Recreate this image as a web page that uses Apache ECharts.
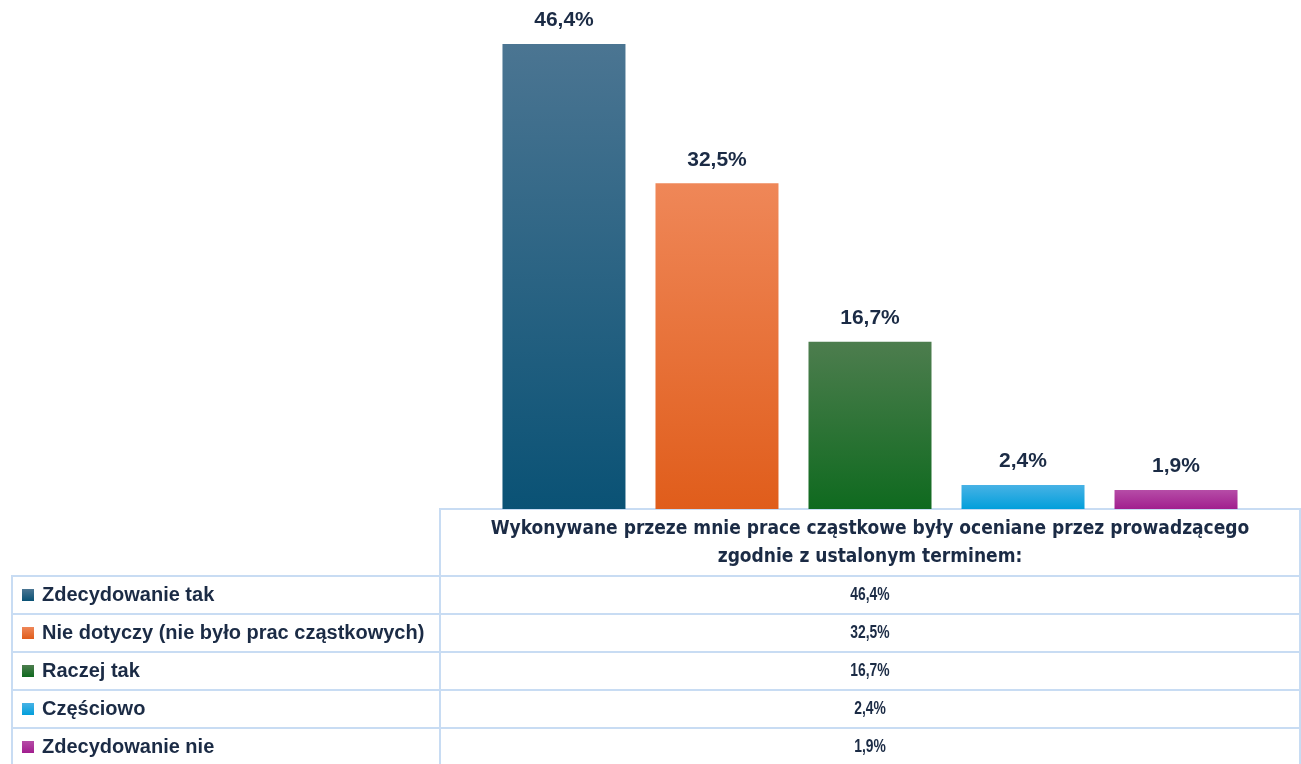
<!DOCTYPE html>
<html>
<head>
<meta charset="utf-8">
<script src="https://cdn.jsdelivr.net/npm/echarts@6/dist/echarts.min.js"></script>
<style>
  html, body { margin: 0; padding: 0; background: #fff; }
  #chart { width: 1301px; height: 764px; }
</style>
</head>
<body>
<div id="chart"></div>
<script>
// dane z wykresu
const question = 'Wykonywane przeze mnie prace cząstkowe były oceniane przez prowadzącego\nzgodnie z ustalonym terminem:';
const answers = ['Zdecydowanie tak', 'Nie dotyczy (nie było prac cząstkowych)', 'Raczej tak', 'Częściowo', 'Zdecydowanie nie'];
const percents = [46.4, 32.5, 16.7, 2.4, 1.9];
const colorsTop = ['#4b7592', '#ef8758', '#4d7d4e', '#48b2e5', '#b64da7'];
const colorsBottom = ['#0a5275', '#e05d1b', '#0f6a1f', '#029fdb', '#a11e8e'];

const textColor = '#1b2b45';
const lineColor = '#c8dcf3';
const fmt = v => v.toFixed(1).replace('.', ',') + '%';

// tabela danych pod wykresem
const tableLeft = 12, colX = 440, tableRight = 1300;
const headTop = 509, rowTop = 576, rowH = 38;
const graphic = [];
graphic.push({
  type: 'rect', shape: { x: colX, y: headTop, width: tableRight - colX, height: rowTop - headTop },
  style: { fill: 'none', stroke: lineColor, lineWidth: 2 }
});
graphic.push({
  type: 'text', x: (colX + tableRight) / 2, y: (headTop + rowTop) / 2 + 1,
  style: {
    text: question, align: 'center', verticalAlign: 'middle', lineHeight: 28,
    font: 'bold 19px "DejaVu Sans Condensed", sans-serif', fill: textColor
  }
});
answers.forEach((name, i) => {
  const y = rowTop + i * rowH;
  graphic.push({
    type: 'rect', shape: { x: tableLeft, y: y, width: colX - tableLeft, height: rowH },
    style: { fill: 'none', stroke: lineColor, lineWidth: 2 }
  });
  graphic.push({
    type: 'rect', shape: { x: colX, y: y, width: tableRight - colX, height: rowH },
    style: { fill: 'none', stroke: lineColor, lineWidth: 2 }
  });
  graphic.push({
    type: 'rect', shape: { x: 22, y: y + rowH / 2 - 6, width: 12, height: 12 },
    style: {
      fill: new echarts.graphic.LinearGradient(0, 0, 0, 1, [
        { offset: 0, color: colorsTop[i] }, { offset: 1, color: colorsBottom[i] }
      ])
    }
  });
  graphic.push({
    type: 'text', x: 42, y: y + rowH / 2,
    style: {
      text: name, verticalAlign: 'middle',
      font: 'bold 20px "Liberation Sans", Arial, sans-serif', fill: textColor
    }
  });
  // wąska czcionka jak w oryginale
  graphic.push({
    type: 'text', x: (colX + tableRight) / 2, y: y + rowH / 2, scaleX: 0.73,
    style: {
      text: fmt(percents[i]), align: 'center', verticalAlign: 'middle',
      font: 'bold 19px "Liberation Sans", Arial, sans-serif', fill: textColor
    }
  });
});

const series = answers.map((name, i) => ({
  name: name,
  type: 'bar',
  data: [percents[i]],
  barWidth: 123,
  barGap: '24.4%',
  itemStyle: {
    color: new echarts.graphic.LinearGradient(0, 0, 0, 1, [
      { offset: 0, color: colorsTop[i] }, { offset: 1, color: colorsBottom[i] }
    ])
  },
  label: {
    show: true, position: 'top', distance: 13,
    formatter: p => fmt(p.value),
    fontFamily: '"Liberation Sans", Arial, sans-serif',
    fontWeight: 'bold', fontSize: 21, color: textColor
  }
}));

const chart = echarts.init(document.getElementById('chart'));
chart.setOption({
  animation: false,
  grid: { left: colX, right: 1301 - tableRight, top: 8, bottom: 764 - headTop },
  xAxis: { type: 'category', data: [question], show: false },
  yAxis: { type: 'value', min: 0, max: 50, show: false },
  series: series,
  graphic: graphic
});
</script>
</body>
</html>
